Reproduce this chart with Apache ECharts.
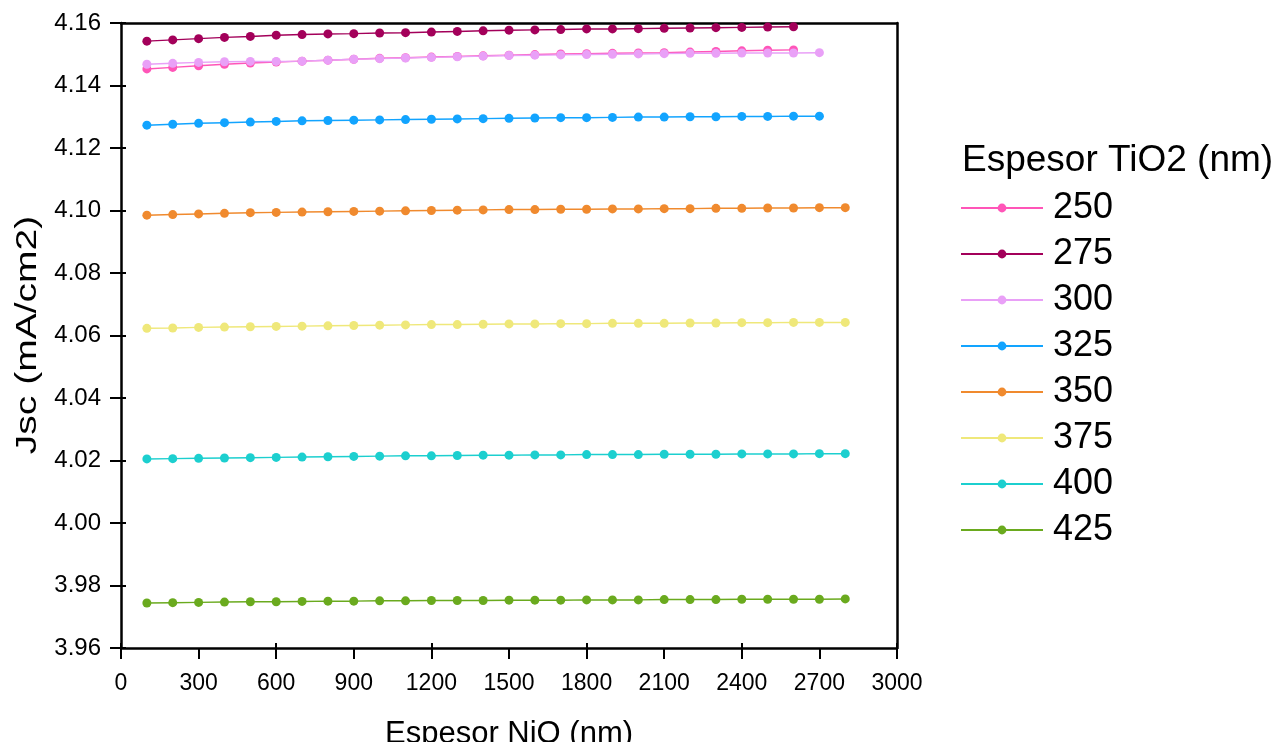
<!DOCTYPE html>
<html>
<head>
<meta charset="utf-8">
<script src="https://cdn.jsdelivr.net/npm/echarts@6/dist/echarts.min.js"></script>
<style>
html,body{margin:0;padding:0;background:#fff;}
#chart{width:1278px;height:742px;}
</style>
</head>
<body>
<div id="chart"></div>
<script>
// NiO thickness (nm)
const nioThickness = [100,200,300,400,500,600,700,800,900,1000,1100,1200,1300,1400,1500,1600,1700,1800,1900,2000,2100,2200,2300,2400,2500,2600,2700,2800];
const seriesNames = ['250','275','300','325','350','375','400','425'];
const xTicks = [0,300,600,900,1200,1500,1800,2100,2400,2700,3000];
const yTicks = [3.96,3.98,4.00,4.02,4.04,4.06,4.08,4.10,4.12,4.14,4.16];

const jsc250 = [4.1453,4.1458,4.1463,4.1468,4.1472,4.1475,4.1478,4.1481,4.1484,4.1487,4.1489,4.1491,4.1493,4.1495,4.1497,4.1499,4.1501,4.1502,4.1503,4.1504,4.1505,4.1507,4.1509,4.1511,4.1513,4.1514];
const jsc275 = [4.1542,4.1546,4.1550,4.1554,4.1557,4.1561,4.1563,4.1565,4.1566,4.1568,4.1569,4.1571,4.1573,4.1575,4.1577,4.1578,4.1579,4.1581,4.1581,4.1582,4.1583,4.1584,4.1585,4.1586,4.1587,4.1588];
const jsc300 = [4.1468,4.1471,4.1474,4.1476,4.1477,4.1477,4.1478,4.1481,4.1484,4.1486,4.1488,4.1490,4.1492,4.1494,4.1496,4.1497,4.1498,4.1499,4.1500,4.1501,4.1502,4.1503,4.1503,4.1504,4.1504,4.1504,4.1505];
const jsc325 = [4.1273,4.1276,4.1279,4.1281,4.1283,4.1285,4.1287,4.1288,4.1289,4.1290,4.1291,4.1292,4.1293,4.1294,4.1295,4.1296,4.1297,4.1297,4.1298,4.1299,4.1299,4.1300,4.1300,4.1301,4.1301,4.1302,4.1302];
const jsc350 = [4.0985,4.0987,4.0989,4.0991,4.0993,4.0994,4.0995,4.0996,4.0997,4.0998,4.0999,4.1000,4.1001,4.1002,4.1003,4.1003,4.1004,4.1004,4.1005,4.1005,4.1006,4.1006,4.1007,4.1007,4.1008,4.1008,4.1009,4.1009];
const jsc375 = [4.0623,4.0624,4.0626,4.0627,4.0628,4.0629,4.0630,4.0631,4.0632,4.0633,4.0634,4.0635,4.0635,4.0636,4.0637,4.0637,4.0638,4.0638,4.0639,4.0639,4.0639,4.0640,4.0640,4.0641,4.0641,4.0642,4.0642,4.0642];
const jsc400 = [4.0205,4.0206,4.0207,4.0208,4.0209,4.0210,4.0211,4.0212,4.0213,4.0214,4.0215,4.0215,4.0216,4.0217,4.0217,4.0218,4.0218,4.0219,4.0219,4.0219,4.0220,4.0220,4.0220,4.0221,4.0221,4.0221,4.0222,4.0222];
const jsc425 = [3.9744,3.9745,3.9746,3.9747,3.9748,3.9748,3.9749,3.9750,3.9750,3.9751,3.9751,3.9752,3.9752,3.9752,3.9753,3.9753,3.9753,3.9754,3.9754,3.9754,3.9755,3.9755,3.9755,3.9756,3.9756,3.9756,3.9756,3.9757];

const allValues = [jsc250,jsc275,jsc300,jsc325,jsc350,jsc375,jsc400,jsc425];
const colors = ['#ff55b8','#a3005a','#e9a0f7','#12a4ff','#f08a2e','#efe87a','#1ccfcf','#6aaa1e'];

const chart = echarts.init(document.getElementById('chart'), null, {renderer:'canvas'});
const font = 'Liberation Sans, Arial, sans-serif';
const axisLineStyle = {color:'#000', width:2.5};

const series = allValues.map((vals, i) => ({
  name: seriesNames[i],
  type: 'line',
  data: vals.map((v, j) => [nioThickness[j], v]),
  symbol: 'circle',
  symbolSize: 9,
  lineStyle: {color: colors[i], width: 1.5},
  itemStyle: {color: colors[i]},
  emphasis: {disabled: true},
  animation: false
}));

chart.setOption({
  backgroundColor: '#fff',
  animation: false,
  title: {
    text: 'Espesor TiO2 (nm)',
    left: 962, top: 142, padding: 0,
    textStyle: {fontFamily: font, fontSize: 37, fontWeight: 'normal', color: '#000'}
  },
  legend: {
    orient: 'vertical',
    left: 960, top: 190, padding: 0,
    itemWidth: 82, itemHeight: 11,
    itemGap: 10,
    textStyle: {fontFamily: font, fontSize: 36, color: '#000', lineHeight: 36, padding: [0,0,0,5]},
    data: seriesNames
  },
  graphic: [{
    type: 'text',
    x: 28, y: 335,
    rotation: Math.PI / 2,
    scaleX: 1.3,
    style: {
      text: 'Jsc (mA/cm2)',
      fontFamily: font, fontSize: 30, fill: '#000',
      align: 'center', verticalAlign: 'middle'
    }
  }],
  grid: {left: 121, top: 23, right: 381, bottom: 94, containLabel: false, outerBoundsMode: 'none'},
  xAxis: [
    {
      type: 'value', min: 0, max: 3000, interval: 300,
      name: 'Espesor NiO (nm)', nameLocation: 'middle', nameGap: 71,
      nameTextStyle: {fontFamily: font, fontSize: 31, color: '#000'},
      axisLine: {show: true, lineStyle: axisLineStyle, onZero: false},
      axisTick: {show: true, inside: false, length: 11, lineStyle: {color:'#000', width: 2}},
      axisLabel: {fontFamily: font, fontSize: 23, color: '#000', margin: 24,
        formatter: v => String(v)},
      splitLine: {show: false}
    },
    {
      type: 'value', min: 0, max: 3000, interval: 600, position: 'bottom',
      axisLine: {show: false, onZero: false},
      axisTick: {show: true, inside: true, length: 5, lineStyle: {color:'#000', width: 2}},
      axisLabel: {show: false}, splitLine: {show: false}
    },
    {
      type: 'value', min: 0, max: 3000, position: 'top',
      axisLine: {show: true, lineStyle: axisLineStyle, onZero: false},
      axisTick: {show: false}, axisLabel: {show: false}, splitLine: {show: false}
    }
  ],
  yAxis: [
    {
      type: 'value', min: 3.96, max: 4.16, interval: 0.02,
      axisLine: {show: true, lineStyle: axisLineStyle, onZero: false},
      axisTick: {show: true, inside: false, length: 11, lineStyle: {color:'#000', width: 2}},
      axisLabel: {fontFamily: font, fontSize: 24, color: '#000', margin: 20,
        formatter: v => v.toFixed(2)},
      splitLine: {show: false}
    },
    {
      type: 'value', min: 3.96, max: 4.16, interval: 0.02, position: 'left',
      axisLine: {show: false, onZero: false},
      axisTick: {show: true, inside: true, length: 5, lineStyle: {color:'#000', width: 2}},
      axisLabel: {show: false}, splitLine: {show: false}
    },
    {
      type: 'value', min: 3.96, max: 4.16, position: 'right',
      axisLine: {show: true, lineStyle: axisLineStyle, onZero: false},
      axisTick: {show: false}, axisLabel: {show: false}, splitLine: {show: false}
    }
  ],
  series: series
});
</script>
</body>
</html>
